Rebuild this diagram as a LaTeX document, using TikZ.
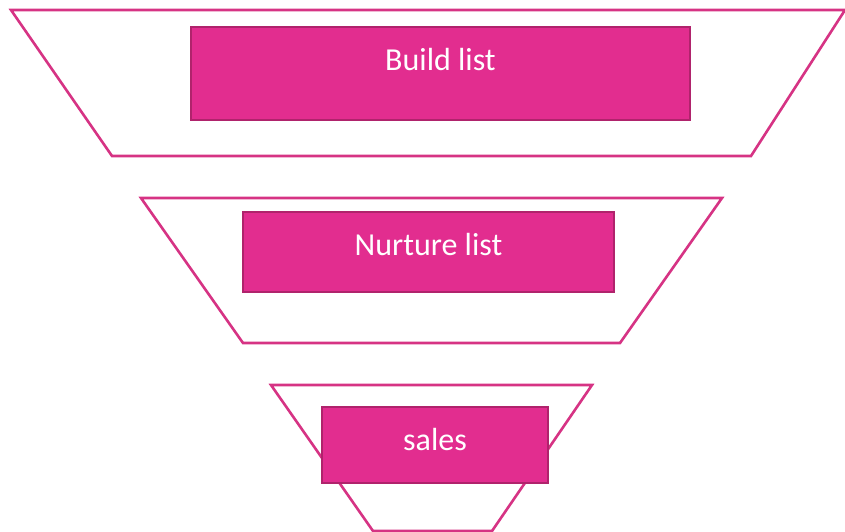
\documentclass[tikz,border=0pt]{standalone}
\usepackage{fontspec}
\setmainfont{Carlito}
\definecolor{funnel}{HTML}{D63384}
\definecolor{boxfill}{HTML}{E22D8F}
\definecolor{boxline}{HTML}{B0236C}
\tikzset{
  funnelpart/.style={draw=funnel, line width=2.6pt, fill=white, line join=miter},
  stagebox/.style={draw=boxline, fill=boxfill, line width=2.2pt, inner sep=0pt, rectangle},
  stagetext/.style={text=white, font=\fontsize{32}{36}\selectfont, anchor=center, inner sep=0pt}
}
\begin{document}
\begin{tikzpicture}[x=1pt,y=-1pt]
\useasboundingbox (0,0) rectangle (845,531);
% funnel pieces
\draw[funnelpart] (11,10) -- (845,10) -- (751,156) -- (112,156) -- cycle;
\draw[funnelpart] (141,198) -- (722,198) -- (620,343) -- (243,343) -- cycle;
\draw[funnelpart] (271,385) -- (592,385) -- (492,531) -- (373,531) -- cycle;
% boxes
\node[stagebox, minimum width=499pt, minimum height=93pt] (b1) at (440.5,73.5) {};
\node[stagebox, minimum width=371pt, minimum height=80pt] (b2) at (428.5,252) {};
\node[stagebox, minimum width=226pt, minimum height=76pt] (b3) at (435,445) {};
% texts
\node[stagetext] (t1) at (440.5,60) {Build list};
\node[stagetext] (t2) at (428.5,244) {Nurture list};
\node[stagetext] (t3) at (435,439) {sales};
\end{tikzpicture}
\end{document}
